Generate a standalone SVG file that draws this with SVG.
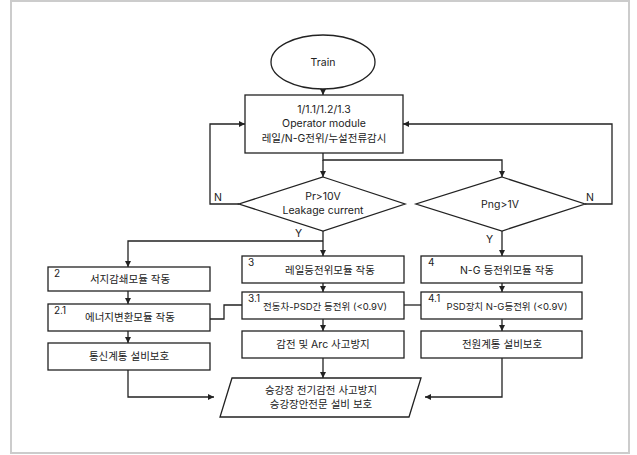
<svg xmlns="http://www.w3.org/2000/svg" width="637" height="455" viewBox="0 0 637 455">
<style>
.sh{fill:#fff;stroke:#222;stroke-width:1.3}
.ln{fill:none;stroke:#222;stroke-width:1.3}
text{font-family:Inter,"Noto Sans CJK KR","Noto Sans",sans-serif;font-size:10.5px;fill:#222}
.c{text-anchor:middle}
.sm{font-size:9.5px}
.lb{font-size:10px}
</style>
<defs>
<marker id="ar" viewBox="0 0 10 10" refX="10" refY="5" markerWidth="6" markerHeight="6" markerUnits="userSpaceOnUse" orient="auto">
<path d="M0,0 L10,5 L0,10 z" fill="#222"/>
</marker>
</defs>
<rect x="11" y="1" width="618" height="452" fill="#fff" stroke="#ccc" stroke-width="2"/>
<g id="connectors" class="ln">
<path d="M323,89 V95" marker-end="url(#ar)"/>
<path d="M323,153 V160 H502 V177" marker-end="url(#ar)"/>
<path d="M323,160 V177" marker-end="url(#ar)"/>
<path d="M239,204 H210 V124 H245" marker-end="url(#ar)"/>
<path d="M585,204 H612 V124 H403" marker-end="url(#ar)"/>
<path d="M323,231 V256" marker-end="url(#ar)"/>
<path d="M323,241 H128 V267" marker-end="url(#ar)"/>
<path d="M502,231 V256" marker-end="url(#ar)"/>
<path d="M128,291 V304" marker-end="url(#ar)"/>
<path d="M128,331 V343" marker-end="url(#ar)"/>
<path d="M323,283 V292" marker-end="url(#ar)"/>
<path d="M323,319 V331" marker-end="url(#ar)"/>
<path d="M502,283 V292" marker-end="url(#ar)"/>
<path d="M502,319 V331" marker-end="url(#ar)"/>
<path d="M210,319 H224 V305 H242"/>
<path d="M404,305 H421"/>
<path d="M323,358 V378" marker-end="url(#ar)"/>
<path d="M128,370 V397 H214" marker-end="url(#ar)"/>
<path d="M502,358 V397 H425" marker-end="url(#ar)"/>
</g>
<g id="train">
<ellipse class="sh" cx="323" cy="62" rx="52" ry="27"/>
<text class="c" x="323" y="66">Train</text>
</g>
<g id="operator">
<rect class="sh" x="245" y="95" width="158" height="58"/>
<text class="c" x="324" y="113">1/1.1/1.2/1.3</text>
<text class="c" x="324" y="127">Operator module</text>
<text class="c" x="324" y="142">레일/N-G전위/누설전류감시</text>
</g>
<g id="d1">
<polygon class="sh" points="323,177 405,204 323,231 239,204"/>
<text class="c" x="323" y="200">Pr&gt;10V</text>
<text class="c" x="323" y="214">Leakage current</text>
</g>
<g id="d2">
<polygon class="sh" points="502,177 585,204 502,231 416,204"/>
<text class="c" x="500" y="208">Png&gt;1V</text>
</g>
<g id="labels">
<text x="214" y="201">N</text>
<text x="586" y="201">N</text>
<text x="295" y="237">Y</text>
<text x="486" y="243">Y</text>
</g>
<g id="n2">
<rect class="sh" x="48" y="267" width="162" height="24"/>
<text class="lb" x="54" y="277">2</text>
<text class="c" x="130" y="283">서지감쇄모듈 작동</text>
</g>
<g id="n21">
<rect class="sh" x="48" y="304" width="162" height="27"/>
<text class="lb" x="54" y="314">2.1</text>
<text class="c" x="130" y="321">에너지변환모듈 작동</text>
</g>
<g id="n2b">
<rect class="sh" x="48" y="343" width="162" height="27"/>
<text class="c" x="129" y="360">통신계통 설비보호</text>
</g>
<g id="n3">
<rect class="sh" x="242" y="256" width="162" height="27"/>
<text class="lb" x="248" y="266">3</text>
<text class="c" x="330" y="274">레일등전위모듈 작동</text>
</g>
<g id="n31">
<rect class="sh" x="242" y="292" width="162" height="27"/>
<text class="lb" x="248" y="302">3.1</text>
<text class="c sm" x="325" y="310">전동차-PSD간 등전위 (&lt;0.9V)</text>
</g>
<g id="n3b">
<rect class="sh" x="242" y="331" width="162" height="27"/>
<text class="c" x="323" y="348">감전 및 Arc 사고방지</text>
</g>
<g id="n4">
<rect class="sh" x="421" y="256" width="161" height="27"/>
<text class="lb" x="428" y="266">4</text>
<text class="c" x="507" y="274">N-G 등전위모듈 작동</text>
</g>
<g id="n41">
<rect class="sh" x="421" y="292" width="161" height="27"/>
<text class="lb" x="428" y="302">4.1</text>
<text class="c sm" x="507" y="310">PSD장치 N-G등전위 (&lt;0.9V)</text>
</g>
<g id="n4b">
<rect class="sh" x="421" y="331" width="161" height="27"/>
<text class="c" x="502" y="348">전원계통 설비보호</text>
</g>
<g id="out">
<polygon class="sh" points="232,378 421,378 409,417 220,417"/>
<text class="c" x="321" y="394">승강장 전기감전 사고방지</text>
<text class="c" x="321" y="408">승강장안전문 설비 보호</text>
</g>
</svg>
